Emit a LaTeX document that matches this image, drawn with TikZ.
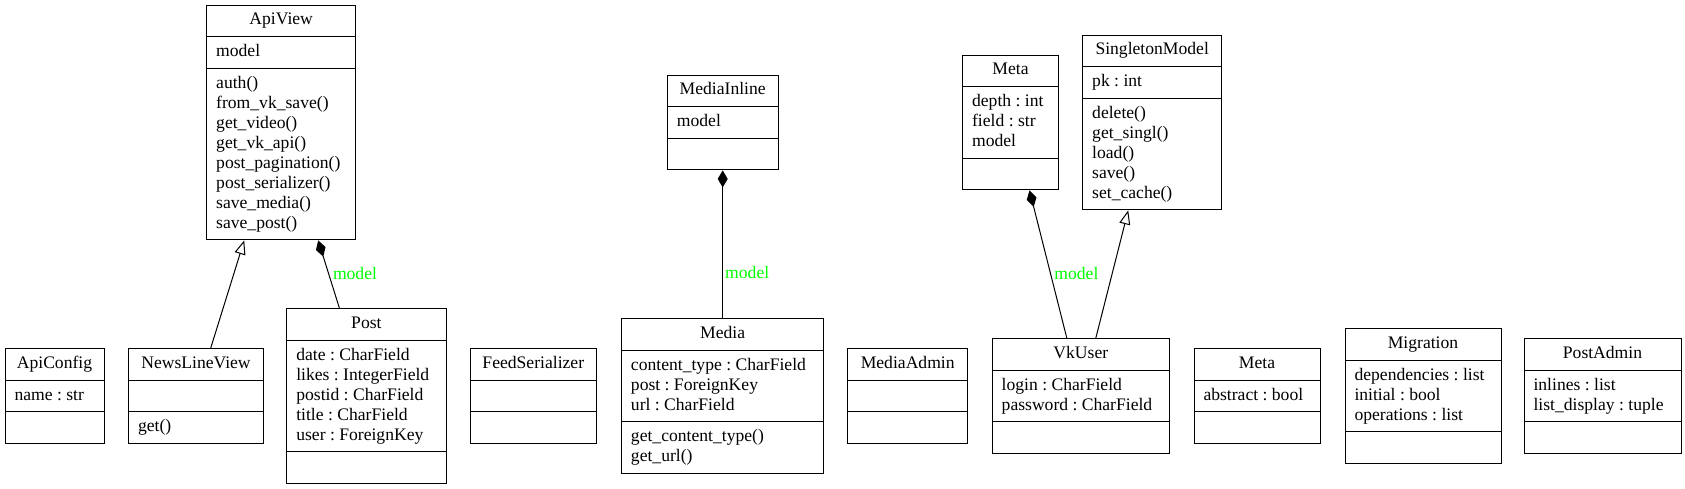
\documentclass[tikz,border=0pt]{standalone}
\usepackage{fontspec}
\setmainfont{Liberation Serif}
\usetikzlibrary{shapes.multipart,arrows.meta}
\definecolor{rolegreen}{RGB}{0,255,0}
\newcommand{\umltitle}[1]{\makebox[\linewidth]{#1}}

\begin{document}
\begin{tikzpicture}[x=1pt, y=-1pt, line width=1pt,
    umlclass/.style={draw, rectangle split, rectangle split parts=3,
        text width=#1, align=left, inner xsep=9.5pt, inner ysep=5.3pt,
        font=\fontsize{17.6}{20}\selectfont,
        execute at begin node={\spaceskip=0pt\xspaceskip=0pt\frenchspacing\strut},
        execute at end node={\unskip\strut}},
    inherit/.style={-{Triangle[open, length=14pt, width=11pt]}},
    composite/.style={-{Diamond[length=17pt, width=10pt]}},
    rolelabel/.style={anchor=base west, inner sep=2pt, text=rolegreen,
        font=\fontsize{17.6}{20}\selectfont}]
    \useasboundingbox (0,0) rectangle (1685,488);

    % upper row
    \node[umlclass=130pt] (apiview) at (281.2,122.5) {\umltitle{ApiView}
        \nodepart{two} model
        \nodepart{three} auth()\\ from\_vk\_save()\\ get\_video()\\ get\_vk\_api()\\
        post\_pagination()\\ post\_serializer()\\ save\_media()\\ save\_post()};
    \node[umlclass=91.6pt] (mediainline) at (722.7,122.5) {\umltitle{MediaInline}
        \nodepart{two} model
        \nodepart{three} };
    \node[umlclass=76.8pt] (meta) at (1010.5,122.5) {\umltitle{Meta}
        \nodepart{two} depth : int\\ field : str\\ model
        \nodepart{three} };
    \node[umlclass=120pt] (singletonmodel) at (1152.2,122.5) {\umltitle{SingletonModel}
        \nodepart{two} pk : int
        \nodepart{three} delete()\\ get\_singl()\\ load()\\ save()\\ set\_cache()};

    % lower row
    \node[umlclass=80pt] (apiconfig) at (54.5,396) {\umltitle{ApiConfig}
        \nodepart{two} name : str
        \nodepart{three} };
    \node[umlclass=116pt] (newslineview) at (196,396) {\umltitle{NewsLineView}
        \nodepart{two}
        \nodepart{three} get()};
    \node[umlclass=140.2pt] (post) at (366.4,396) {\umltitle{Post}
        \nodepart{two} date : CharField\\ likes : IntegerField\\ postid : CharField\\
        title : CharField\\ user : ForeignKey
        \nodepart{three} };
    \node[umlclass=106.7pt] (feedserializer) at (533.3,396) {\umltitle{FeedSerializer}
        \nodepart{two}
        \nodepart{three} };
    \node[umlclass=183.5pt] (media) at (722.7,396) {\umltitle{Media}
        \nodepart{two} content\_type : CharField\\ post : ForeignKey\\ url : CharField
        \nodepart{three} get\_content\_type()\\ get\_url()};
    \node[umlclass=101.5pt] (mediaadmin) at (907.7,396) {\umltitle{MediaAdmin}
        \nodepart{two}
        \nodepart{three} };
    \node[umlclass=158.2pt] (vkuser) at (1080.8,396) {\umltitle{VkUser}
        \nodepart{two} login : CharField\\ password : CharField
        \nodepart{three} };
    \node[umlclass=107pt] (metaabstract) at (1257,396) {\umltitle{Meta}
        \nodepart{two} abstract : bool
        \nodepart{three} };
    \node[umlclass=137pt] (migration) at (1423,396) {\umltitle{Migration}
        \nodepart{two} dependencies : list\\ initial : bool\\ operations : list
        \nodepart{three} };
    \node[umlclass=138pt] (postadmin) at (1602.5,396) {\umltitle{PostAdmin}
        \nodepart{two} inlines : list\\ list\_display : tuple
        \nodepart{three} };

    \draw[inherit] ([xshift=14.7pt]newslineview.north) -- ([xshift=-37pt]apiview.south);
    \draw[composite] ([xshift=-27pt]post.north) -- node[rolelabel, pos=0.42] {model} ([xshift=37pt]apiview.south);
    \draw[composite] (media.north) -- node[rolelabel, pos=0.27] {model} (mediainline.south);
    \draw[composite] ([xshift=-14pt]vkuser.north) -- node[rolelabel, pos=0.4] {model} ([xshift=19pt]meta.south);
    \draw[inherit] ([xshift=15pt]vkuser.north) -- ([xshift=-24pt]singletonmodel.south);
\end{tikzpicture}
\end{document}
